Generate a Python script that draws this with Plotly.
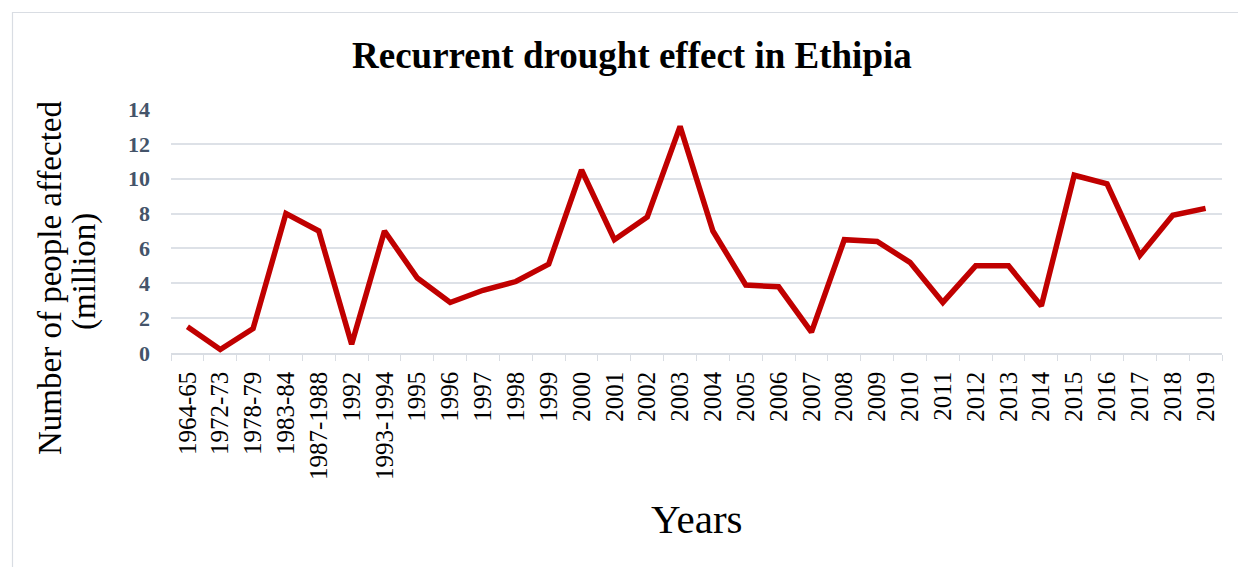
import plotly.graph_objects as go

years = ["1964-65", "1972-73", "1978-79", "1983-84", "1987-1988", "1992", "1993-1994",
         "1995", "1996", "1997", "1998", "1999", "2000", "2001", "2002", "2003", "2004",
         "2005", "2006", "2007", "2008", "2009", "2010", "2011", "2012", "2013", "2014",
         "2015", "2016", "2017", "2018", "2019"]
affected = [1.5, 0.2, 1.4, 8.0, 7.0, 0.5, 7.0,
            4.3, 2.9, 3.6, 4.1, 5.1, 10.5, 6.5, 7.8, 13.0, 7.0,
            3.9, 3.8, 1.2, 6.5, 6.4, 5.2, 2.9, 5.0, 5.0, 2.7,
            10.2, 9.7, 5.6, 7.9, 8.3]
y_ticks = [0, 2, 4, 6, 8, 10, 12, 14]

SERIF = "Liberation Serif, Times New Roman, serif"
L, R, T, B = 171, 16, 109, 214
W, H = 1238, 567
pw, ph = W - L - R, H - T - B

def px_x(x):
    return (x - L) / pw

def px_y(y):
    return (H - B - y) / ph

fig = go.Figure()
fig.add_trace(go.Scatter(
    x=years, y=affected, mode="lines",
    line=dict(color="#C00000", width=5.5),
    hoverinfo="x+y", showlegend=False,
))

fig.update_layout(
    width=W, height=H,
    margin=dict(l=L, r=R, t=T, b=B),
    paper_bgcolor="white", plot_bgcolor="white",
    xaxis=dict(
        type="category", tickangle=-90, showgrid=False,
        range=[-0.5, len(years) - 0.5],
        showline=True, linecolor="#D9DDE3", linewidth=1.5,
        ticks="outside", tickson="boundaries", ticklen=6, tickcolor="#D9DDE3",
        ticklabelstandoff=7,
        tickfont=dict(family=SERIF, size=25, color="black"),
    ),
    yaxis=dict(
        range=[0, 14], tickvals=y_ticks, showgrid=True,
        gridcolor="#DDE1E7", gridwidth=1.5, zeroline=False,
        ticks="", ticklabelstandoff=20,
        tickfont=dict(family=SERIF, size=22, color="#44546A", weight="bold"),
    ),
    shapes=[dict(type="rect", xref="paper", yref="paper",
                 x0=px_x(12.5), y0=px_y(575), x1=px_x(1245), y1=px_y(12.5),
                 line=dict(color="#D9DDE3", width=1.2), layer="below")],
    annotations=[
        dict(text="<b>Recurrent drought effect in Ethipia</b>", xref="paper", yref="paper",
             x=px_x(632), y=px_y(55), showarrow=False, xanchor="center", yanchor="middle",
             font=dict(family=SERIF, size=37, color="black")),
        dict(text="Number of people affected", xref="paper", yref="paper",
             x=px_x(50), y=px_y(278), showarrow=False, textangle=-90,
             xanchor="center", yanchor="middle",
             font=dict(family=SERIF, size=33, color="black")),
        dict(text="(million)", xref="paper", yref="paper",
             x=px_x(84), y=px_y(272), showarrow=False, textangle=-90,
             xanchor="center", yanchor="middle",
             font=dict(family=SERIF, size=33, color="black")),
        dict(text="Years", xref="paper", yref="paper",
             x=px_x(697), y=px_y(519), showarrow=False, xanchor="center", yanchor="middle",
             font=dict(family=SERIF, size=41, color="black")),
    ],
)

fig.write_html("out.html")
